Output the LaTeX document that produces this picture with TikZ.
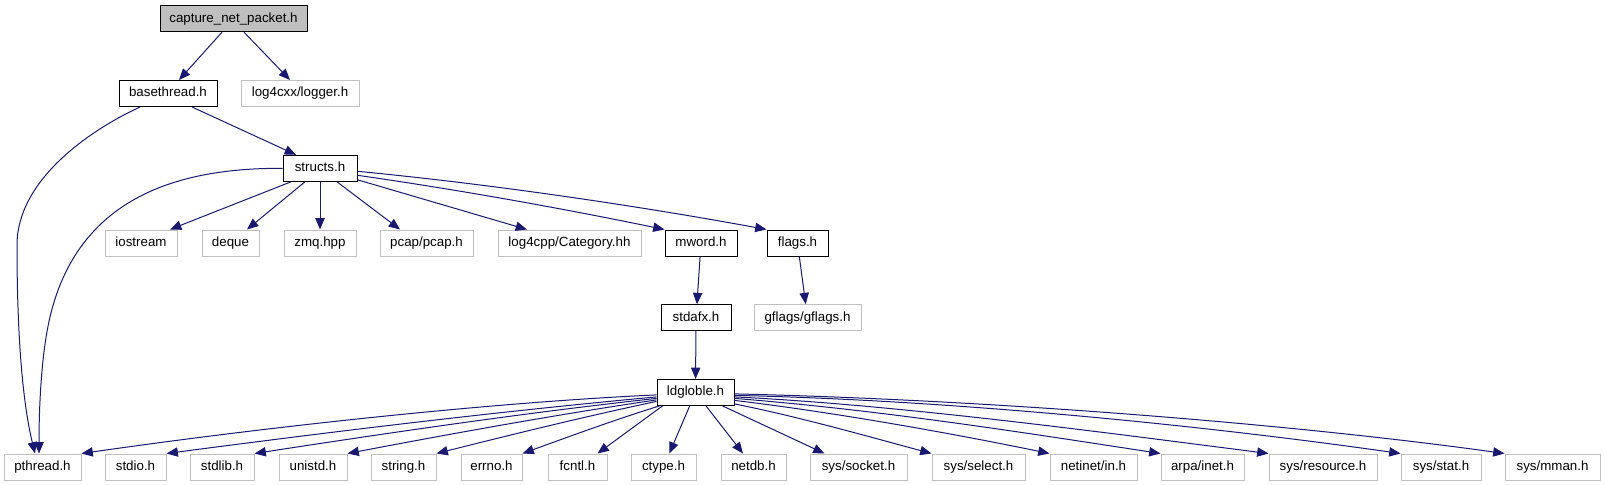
\documentclass[tikz,border=0pt]{standalone}
\usepackage{fontspec}
\setmainfont{Liberation Sans}
\usetikzlibrary{arrows.meta,calc}
\definecolor{edgeblue}{HTML}{191970}
\definecolor{extgray}{HTML}{BFBFBF}
\begin{document}
\begin{tikzpicture}[x=0.75pt,y=-0.75pt,
  nd/.style={rectangle, draw=black, line width=0.75pt, inner sep=0pt,
    minimum height=19.5pt, minimum width=#1*0.75pt,
    text height=7.2pt, text depth=2pt, font=\fontsize{10}{12}\selectfont},
  ext/.style={nd=#1, draw=extgray},
  root/.style={nd=#1, fill=extgray},
  e/.style={draw=edgeblue, line width=0.75pt, -{Triangle[length=8.5pt,width=7pt]}}
]
\fill[white] (0,0) rectangle (1605,485);
\useasboundingbox (0,0) rectangle (1605,485);

% rows
\node[root=147] (cap) at (233.5,18.7) {capture\_net\_packet.h};
\node[nd=98] (bt) at (168,93.5) {basethread.h};
\node[ext=118] (lg) at (300,93.5) {log4cxx/logger.h};
\node[nd=74] (st) at (320,168.3) {structs.h};
\node[ext=72] (ios) at (141,243) {iostream};
\node[ext=57] (dq) at (230.5,243) {deque};
\node[ext=72] (zmq) at (320,243) {zmq.hpp};
\node[ext=93] (pcap) at (426.5,243) {pcap/pcap.h};
\node[ext=143] (l4) at (569.5,243) {log4cpp/Category.hh};
\node[nd=72] (mw) at (701,243) {mword.h};
\node[nd=61] (fl) at (797.5,243) {flags.h};
\node[nd=70] (sx) at (696,317.7) {stdafx.h};
\node[ext=107] (gf) at (807.5,317.7) {gflags/gflags.h};
\node[nd=77] (ld) at (695.5,392.4) {ldgloble.h};
\node[ext=77] (pth) at (42.5,467) {pthread.h};
\node[ext=61] (sio) at (135.5,467) {stdio.h};
\node[ext=64] (slb) at (222,467) {stdlib.h};
\node[ext=68] (uni) at (313,467) {unistd.h};
\node[ext=65] (str) at (403.5,467) {string.h};
\node[ext=61] (err) at (491.5,467) {errno.h};
\node[ext=59] (fcn) at (577.5,467) {fcntl.h};
\node[ext=65] (cty) at (663.5,467) {ctype.h};
\node[ext=65] (ndb) at (753.5,467) {netdb.h};
\node[ext=97] (soc) at (858.5,467) {sys/socket.h};
\node[ext=93] (sel) at (978.5,467) {sys/select.h};
\node[ext=87] (nin) at (1093.5,467) {netinet/in.h};
\node[ext=83] (arp) at (1202.5,467) {arpa/inet.h};
\node[ext=108] (res) at (1323,467) {sys/resource.h};
\node[ext=80] (sst) at (1441,467) {sys/stat.h};
\node[ext=95] (mman) at (1552.5,467) {sys/mman.h};

% edges from capture_net_packet.h
\draw[e] ($(cap.south)+(-11.5,0)$) -- ($(bt.north)+(11,0)$);
\draw[e] ($(cap.south)+(10.5,0)$) -- ($(lg.north)+(-10,0)$);
% basethread.h
\draw[e] ($(bt.south)+(24,0)$) -- ($(st.north)+(-24,0)$);
\draw[e] ($(bt.south)+(-28,0)$) .. controls (90,130) and (17,180) .. (17,245)
  .. controls (17,330) and (22,400) .. ($(pth.north)+(-7.5,0)$);
% structs.h
\draw[e] (st.west) .. controls (190,168) and (80,190) .. (50,317)
  .. controls (41,355) and (39,410) .. ($(pth.north)+(-3.5,0)$);
\draw[e] ($(st.south)+(-29,0)$) -- ($(ios.north)+(29,0)$);
\draw[e] ($(st.south)+(-15,0)$) -- ($(dq.north)+(16.5,0)$);
\draw[e] (st.south) -- (zmq.north);
\draw[e] ($(st.south)+(17,0)$) -- ($(pcap.north)+(-26.5,0)$);
\draw[e] ($(st.south east)+(0,-2)$) -- ($(l4.north)+(-42.5,0)$);
\draw[e] ($(st.east)+(0,7)$) .. controls (460,190) and (560,208) .. (mw.north west);
\draw[e] ($(st.east)+(0,3)$) .. controls (500,185) and (650,208) .. (fl.north west);
% chain
\draw[e] (mw) -- (sx);
\draw[e] (fl) -- (gf);
\draw[e] (sx) -- (ld);
% ldgloble.h to the left
\draw[e] ($(ld.north west)+(0,16)$) .. controls (500,402) and (280,425) .. (pth.north east);
\draw[e] ($(ld.north west)+(0,18)$) .. controls (493,412) and (330,432) .. (sio.north east);
\draw[e] ($(ld.north west)+(0,19.5)$) .. controls (523,413) and (388,433) .. (slb.north east);
\draw[e] ($(ld.north west)+(0,21)$) .. controls (554,415) and (450,434) .. (uni.north east);
\draw[e] ($(ld.north west)+(0,22.5)$) .. controls (583,417) and (510,435) .. (str.north east);
\draw[e] ($(ld.south west)+(3,0)$) .. controls (614,420) and (568,437) .. (err.north east);
\draw[e] ($(ld.south west)+(6,0)$) -- ($(fcn.north)+(20,0)$);
\draw[e] (ld) -- (cty);
\draw[e] (ld) -- (ndb);
% ldgloble.h to the right
\draw[e] ($(ld.south east)+(-12,0)$) -- ($(soc.north)+(-34,0)$);
\draw[e] ($(ld.south east)+(0,-2)$) .. controls (800,417) and (870,437) .. (sel.north west);
\draw[e] ($(ld.east)+(0,8)$) .. controls (840,413) and (960,435) .. (nin.north west);
\draw[e] ($(ld.east)+(0,6)$) .. controls (880,410) and (1020,432) .. (arp.north west);
\draw[e] ($(ld.east)+(0,4.5)$) .. controls (900,405) and (1100,432) .. (res.north west);
\draw[e] ($(ld.east)+(0,3)$) .. controls (950,400) and (1200,425) .. (sst.north west);
\draw[e] ($(ld.east)+(0,1.5)$) .. controls (1000,400) and (1300,425) .. (mman.north west);
\end{tikzpicture}
\end{document}
